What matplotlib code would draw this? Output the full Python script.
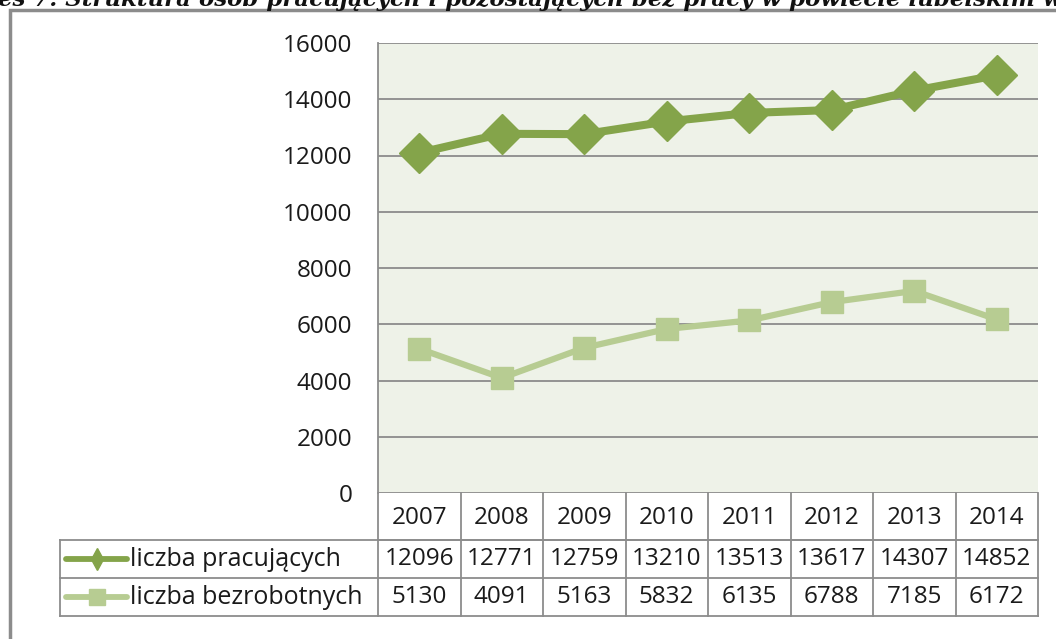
import numpy as np
import matplotlib.pyplot as plt
import matplotlib.transforms as mtransforms
from matplotlib.lines import Line2D

years = ['2007', '2008', '2009', '2010', '2011', '2012', '2013', '2014']
pracujacych = [12096, 12771, 12759, 13210, 13513, 13617, 14307, 14852]
bezrobotnych = [5130, 4091, 5163, 5832, 6135, 6788, 7185, 6172]
series_names = ['liczba pracujących', 'liczba bezrobotnych']
yticks = [0, 2000, 4000, 6000, 8000, 10000, 12000, 14000, 16000]

c_dark = '#84a44a'
c_light = '#b7cc92'
grid_c = '#8c8c8c'
tab_c = '#8c8c8c'
txt_c = '#1a1a1a'
fs = 17.5

plt.rcParams['font.family'] = ['Open Sans', 'DejaVu Sans']

fig = plt.figure(figsize=(10.56, 6.39), dpi=100)
W, H = 1056, 639
ax = fig.add_axes([378 / W, 1 - 493 / H, (1038 - 378) / W, (493 - 43) / H])
ax.set_facecolor('#eef2e8')

x = np.arange(len(years))
ax.plot(x, pracujacych, color=c_dark, lw=5.8, marker='D', ms=20,
        solid_capstyle='round', zorder=4)
ax.plot(x, bezrobotnych, color=c_light, lw=4.5, marker='s', ms=16,
        solid_capstyle='round', zorder=3)

ax.set_xlim(-0.5, len(years) - 0.5)
ax.set_ylim(0, 16000)
ax.set_yticks(yticks)
ax.set_yticklabels([str(v) for v in yticks], fontsize=fs, color=txt_c)
ax.set_xticks([])
ax.tick_params(axis='y', length=0, pad=18.5)
for v in yticks:
    ax.axhline(v, color=grid_c, lw=1.3, zorder=1)
for s in ['top', 'right', 'bottom']:
    ax.spines[s].set_visible(False)
ax.spines['left'].set_color(tab_c)
ax.spines['left'].set_linewidth(1.3)

# data table below the plot
tr = mtransforms.blended_transform_factory(ax.transData, ax.transAxes)
px = 1 / (493 - 43)
rows = [0, -(540 - 493) * px, -(578 - 493) * px, -(616 - 493) * px]
xl = (60 - 378) / (1038 - 378)
kw = dict(color=tab_c, lw=1.3, clip_on=False)
for i in range(len(years) + 1):
    ax.plot([i - 0.5, i - 0.5], [rows[0], rows[3]], transform=tr, **kw)
ax.plot([-0.5, len(years) - 0.5], [rows[1], rows[1]], transform=tr, **kw)
for r in rows[1:]:
    ax.plot([xl, 1], [r, r], transform=ax.transAxes, **kw)
ax.plot([xl, xl], [rows[1], rows[3]], transform=ax.transAxes, **kw)

for i, yr in enumerate(years):
    ax.text(i, (rows[0] + rows[1]) / 2 - 0.004, yr, transform=tr, ha='center',
            va='center', fontsize=fs, color=txt_c)
for vals, r in [(pracujacych, 1), (bezrobotnych, 2)]:
    for i, v in enumerate(vals):
        ax.text(i, (rows[r] + rows[r + 1]) / 2, str(v), transform=tr,
                ha='center', va='center', fontsize=fs, color=txt_c)

# legend keys inside the table
kx0 = (66 - 378) / (1038 - 378)
kx1 = (127 - 378) / (1038 - 378)
kxm = (kx0 + kx1) / 2
for r, col, mk, ms, name in [(1, c_dark, 'd', 11, series_names[0]),
                              (2, c_light, 's', 12, series_names[1])]:
    yc = (rows[r] + rows[r + 1]) / 2
    ax.add_line(Line2D([kx0, kx1], [yc, yc], transform=ax.transAxes,
                       color=col, lw=4.2, solid_capstyle='round', clip_on=False))
    ax.add_line(Line2D([kxm], [yc], transform=ax.transAxes, color=col,
                       marker=mk, ms=ms, clip_on=False))
    ax.text(kx1 + 0.004, yc, name, transform=ax.transAxes, ha='left',
            va='center', fontsize=18, color=txt_c)

# outer chart frame
frame = plt.Rectangle((10 / W, -0.05), 1.1, 1 - 10 / H + 0.05,
                      transform=fig.transFigure, fill=False,
                      edgecolor='#8c8c8c', lw=2.5)
fig.add_artist(frame)

# title cut off at the top of the picture
fig.text(-0.002, 1 - 6 / H,
         'es 7. Struktura osób pracujących i pozostających bez pracy w powiecie lubelskim w latach',
         fontsize=16.5, family='DejaVu Serif', weight='bold', style='italic',
         va='baseline', ha='left', color='#111111')

fig.savefig('out.png', dpi=100)
